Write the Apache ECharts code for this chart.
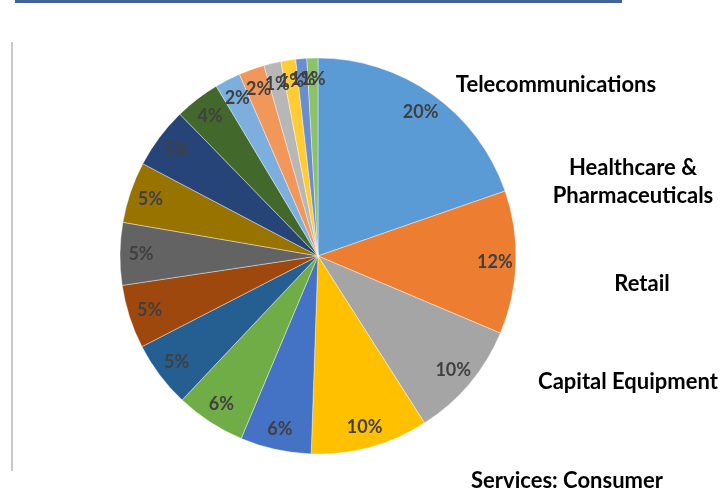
<!DOCTYPE html>
<html>
<head>
<meta charset="utf-8">
<script src="https://cdn.jsdelivr.net/npm/echarts@6/dist/echarts.min.js"></script>
<style>
  html, body { margin: 0; padding: 0; background: #ffffff; }
  #chart { width: 725px; height: 492px; }
</style>
</head>
<body>
<div id="chart"></div>
<script>
// Sector shares (percent of total), clockwise from 12 o'clock
const shares = [19.7, 11.7, 9.6, 9.6, 5.8, 5.7, 5.4, 5.2, 5.1, 5.0, 5.0, 3.7, 2.1, 2.1, 1.4, 1.2, 0.9, 0.9];

// Sector names shown beside the pie (the first five slices)
const sectorNames = ['Telecommunications', 'Healthcare &\nPharmaceuticals', 'Retail', 'Capital Equipment', 'Services: Consumer'];

// Office-style slice palette
const sliceColors = [
  '#5B9BD5', '#ED7D31', '#A5A5A5', '#FFC000', '#4472C4', '#70AD47',
  '#255E91', '#9E480E', '#636363', '#997300', '#264478', '#43682B',
  '#7CAFDD', '#F1975A', '#B7B7B7', '#FFCD33', '#698ED0', '#8CC168'
];

const total = shares.reduce((a, b) => a + b, 0);
const pieData = shares.map((v, i) => ({ name: sectorNames[i] || ('s' + i), value: v }));

const CX = 318, CY = 256, R = 198;

const chart = echarts.init(document.getElementById('chart'), null, { renderer: 'canvas' });

const sectorTexts = [
  { text: sectorNames[0], x: 556, y: 85 },
  { text: sectorNames[1], x: 633, y: 182 },
  { text: sectorNames[2], x: 642, y: 284 },
  { text: sectorNames[3], x: 628, y: 382 },
  { text: sectorNames[4], x: 567, y: 481 }
];

chart.setOption({
  animation: false,
  backgroundColor: '#ffffff',
  color: sliceColors,
  graphic: [
    // rule along the top edge
    { type: 'rect', shape: { x: 15, y: 0, width: 607, height: 3 }, style: { fill: '#41639A' } },
    // thin frame line on the left
    { type: 'rect', shape: { x: 11, y: 42, width: 2, height: 429 }, style: { fill: '#C8C8C8' } }
  ].concat(sectorTexts.map(t => ({
    type: 'text',
    x: t.x,
    y: t.y,
    style: {
      text: t.text,
      fill: '#000000',
      font: 'bold 22px Lato',
      align: 'center',
      verticalAlign: 'middle',
      lineHeight: 28
    }
  }))),
  series: [
    {
      // the pie itself
      type: 'pie',
      center: [CX, CY],
      radius: [0, R],
      startAngle: 90,
      clockwise: true,
      silent: true,
      data: pieData,
      itemStyle: { borderColor: '#ffffff', borderWidth: 0.4 },
      label: { show: false },
      labelLine: { show: false }
    },
    {
      // percentage labels placed near the rim
      type: 'pie',
      center: [CX, CY],
      radius: [150, R],
      startAngle: 90,
      clockwise: true,
      silent: true,
      data: pieData,
      itemStyle: { color: 'rgba(0,0,0,0)' },
      label: {
        show: true,
        position: 'inside',
        formatter: p => Math.round(p.value / total * 100) + '%',
        color: '#404040',
        fontFamily: 'Lato',
        fontWeight: 'bold',
        fontSize: 18
      },
      labelLayout: { hideOverlap: false },
      labelLine: { show: false }
    }
  ]
});
</script>
</body>
</html>
